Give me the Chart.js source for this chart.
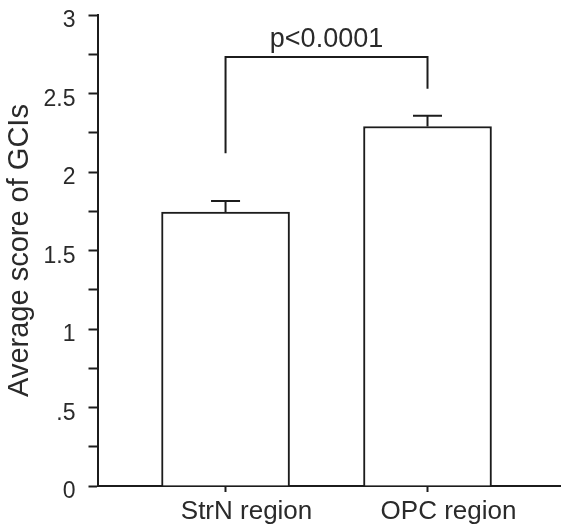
<!DOCTYPE html>
<html>
<head>
<meta charset="utf-8">
<script src="https://cdn.jsdelivr.net/npm/chart.js@4/dist/chart.umd.min.js"></script>
<style>
  html, body { margin: 0; padding: 0; background: #fff; }
  #wrap { width: 561px; height: 526px; }
</style>
</head>
<body>
<div id="wrap"><canvas id="c" width="561" height="526"></canvas></div>
<script>
// ---- data ----
const categories = ['StrN region', 'OPC region'];
const means = [1.745, 2.29];
const sem = [0.07, 0.068];
const yTickLabels = ['0', '.5', '1', '1.5', '2', '2.5', '3'];
const bracketTop = 2.732;
const bracketLegBottoms = [2.12, 2.53];
const pLabel = 'p<0.0001';
const yTitle = 'Average score of GCIs';

const INK = '#1c1c1c';
const TXT = '#2a2a2a';
const FONT = '"Liberation Sans", Arial, Helvetica, sans-serif';

const annotations = {
  id: 'annotations',
  afterDatasetsDraw(chart) {
    const {ctx, scales: {x, y}} = chart;
    ctx.save();
    ctx.strokeStyle = INK;
    ctx.lineWidth = 2;
    ctx.lineCap = 'butt';
    means.forEach((m, i) => {
      const px = x.getPixelForValue(i + 1);
      const top = y.getPixelForValue(m + sem[i]);
      const base = y.getPixelForValue(m);
      ctx.beginPath();
      ctx.moveTo(px, base);
      ctx.lineTo(px, top);
      ctx.moveTo(px - 14.5, top);
      ctx.lineTo(px + 14.5, top);
      ctx.stroke();
    });
    const x1 = x.getPixelForValue(1), x2 = x.getPixelForValue(2);
    const yt = y.getPixelForValue(bracketTop);
    ctx.beginPath();
    ctx.moveTo(x1, y.getPixelForValue(bracketLegBottoms[0]));
    ctx.lineTo(x1, yt);
    ctx.lineTo(x2, yt);
    ctx.lineTo(x2, y.getPixelForValue(bracketLegBottoms[1]));
    ctx.stroke();
    ctx.fillStyle = TXT;
    ctx.font = '27px ' + FONT;
    ctx.textAlign = 'center';
    ctx.textBaseline = 'alphabetic';
    ctx.fillText(pLabel, (x1 + x2) / 2, yt - 10.5);
    ctx.restore();
  }
};

new Chart(document.getElementById('c'), {
  type: 'bar',
  data: {
    datasets: [{
      data: means.map((v, i) => ({x: i + 1, y: v})),
      backgroundColor: '#ffffff',
      borderColor: INK,
      borderWidth: 2,
      borderSkipped: 'bottom',
      barThickness: 128
    }]
  },
  options: {
    responsive: false,
    animation: false,
    devicePixelRatio: 1,
    layout: { padding: { top: 15, right: 0, left: 0, bottom: 0 } },
    plugins: { legend: { display: false }, tooltip: { enabled: false } },
    scales: {
      x: {
        type: 'linear',
        offset: false,
        min: 0.366,
        max: 2.661,
        afterBuildTicks: (s) => { s.ticks = categories.map((c, i) => ({value: i + 1})); },
        afterFit: (s) => { s.height = 40; s.paddingLeft = 0; s.paddingRight = 0; },
        grid: { display: true, offset: false, drawOnChartArea: false, drawTicks: true, tickLength: 6, tickColor: INK, tickWidth: 2 },
        border: { display: true, color: INK, width: 2 },
        ticks: {
          color: TXT,
          font: { family: FONT, size: 26 },
          padding: 4,
          labelOffset: 21,
          maxRotation: 0,
          autoSkip: false,
          callback: (v) => categories[Math.round(v) - 1] || ''
        }
      },
      y: {
        min: 0,
        max: 3,
        afterFit: (s) => { s.width = 97.5; s.paddingTop = 0; s.paddingBottom = 0; },
        grid: { display: true, drawOnChartArea: false, drawTicks: true, tickLength: 9, tickColor: INK, tickWidth: 2 },
        border: { display: true, color: INK, width: 2 },
        ticks: {
          stepSize: 0.25,
          color: TXT,
          font: { family: FONT, size: 23 },
          padding: 13,
          labelOffset: 6,
          autoSkip: false,
          callback: (v) => {
            const k = Math.round(v * 2);
            if (Math.abs(v * 2 - k) > 1e-6) return '';
            return yTickLabels[k];
          }
        },
        title: {
          display: true,
          text: yTitle,
          color: TXT,
          font: { family: FONT, size: 29 },
          padding: { top: 3, bottom: 0 }
        }
      }
    }
  },
  plugins: [annotations]
});
</script>
</body>
</html>
